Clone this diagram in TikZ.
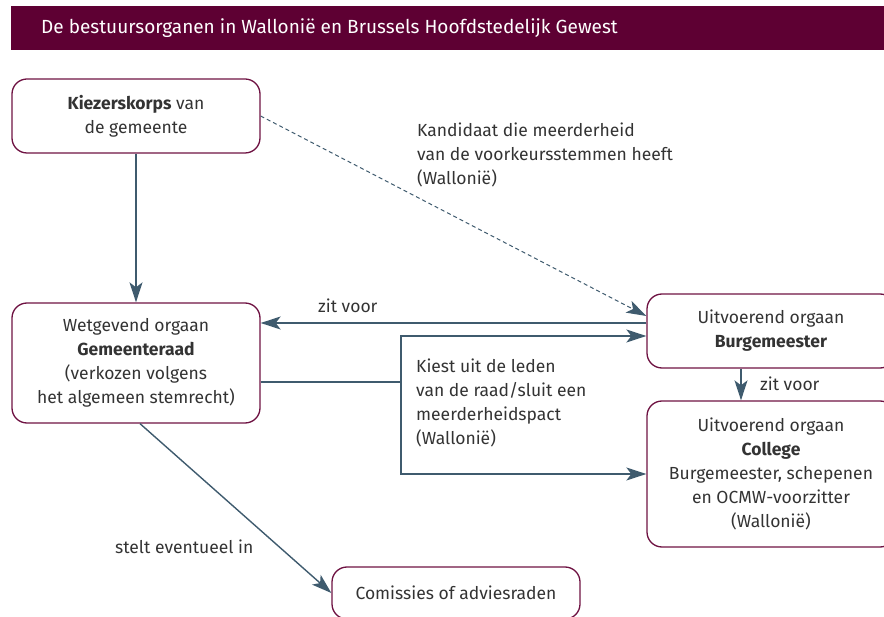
\documentclass[tikz,border=0pt]{standalone}
\usepackage{fontspec}
\setmainfont{Fira Sans}
\usetikzlibrary{arrows.meta}
\definecolor{wine}{HTML}{5E0033}
\definecolor{boxline}{HTML}{6E1242}
\definecolor{slate}{HTML}{3F5B6E}
\definecolor{ink}{HTML}{333333}
\newcommand{\txt}{\fontsize{17.5}{23.8}\selectfont}

\begin{document}
\begin{tikzpicture}[x=1pt,y=-1pt,
    orgaan/.style={draw=boxline, line width=1.3pt, rounded corners=15pt,
      text=ink, align=center, font=\txt, inner sep=0pt, minimum width=248pt},
    lbl/.style={text=ink, align=left, font=\txt, inner sep=0pt, anchor=west},
    pijl/.style={draw=slate, line width=1.4pt,
      -{Stealth[length=20pt,width=13pt,inset=5pt]}}]
  \useasboundingbox (0,0) rectangle (884,617);
  \clip (0,0) rectangle (884,617);

  % title bar
  \fill[wine] (11,6) rectangle (884,50);
  \node[anchor=west, text=white, font=\fontsize{19}{20}\selectfont, inner sep=0pt]
    (titel) at (41,28) {De bestuursorganen in Wallonië en Brussels Hoofdstedelijk Gewest};

  % organen
  \node[orgaan, minimum height=74pt] (KK) at (136,116) {\textbf{Kiezerskorps} van\\de gemeente};
  \node[orgaan, minimum height=120pt] (GR) at (136,363)
    {Wetgevend orgaan\\\textbf{Gemeenteraad}\\(verkozen volgens\\het algemeen stemrecht)};
  \node[orgaan, minimum height=74pt] (BM) at (771,331) {Uitvoerend orgaan\\\textbf{Burgemeester}};
  \node[orgaan, minimum height=146pt] (CB) at (771,474)
    {Uitvoerend orgaan\\\textbf{College}\\Burgemeester, schepenen\\en OCMW-voorzitter\\(Wallonië)};
  \node[orgaan, minimum height=52pt] (CA) at (456,593) {Comissies of adviesraden};

  \coordinate (splits) at (401,382);

  % verbindingen
  \draw[pijl] (KK) -- (GR);
  \draw[pijl, line width=1pt, dash pattern=on 4pt off 3pt] (KK.east) -- ([yshift=15pt]BM.west);
  \draw[pijl] ([yshift=8pt]BM.west) -- ([yshift=8pt]BM.west -| GR.east);
  \draw[draw=slate, line width=1.4pt] ([yshift=-19pt]GR.east) -- (splits);
  \draw[pijl] (splits) |- ([yshift=-5pt]BM.west);
  \draw[pijl] (splits) |- (CB.west);
  \draw[pijl] ([xshift=-30pt]BM.south) -- ([xshift=-30pt]BM.south |- CB.north);
  \draw[pijl] ([xshift=4pt]GR.south) -- (CA.west);

  % labels
  \node[lbl] (kandidaat) at (417,155) {Kandidaat die meerderheid\\van de voorkeursstemmen heeft\\(Wallonië)};
  \node[lbl] (zitvoor1) at (318,306) {zit voor};
  \node[lbl] (kiest) at (416,403) {Kiest uit de leden\\van de raad/sluit een\\meerderheidspact\\(Wallonië)};
  \node[lbl] (zitvoor2) at (760,384) {zit voor};
  \node[lbl] (stelt) at (115,547) {stelt eventueel in};
\end{tikzpicture}
\end{document}
